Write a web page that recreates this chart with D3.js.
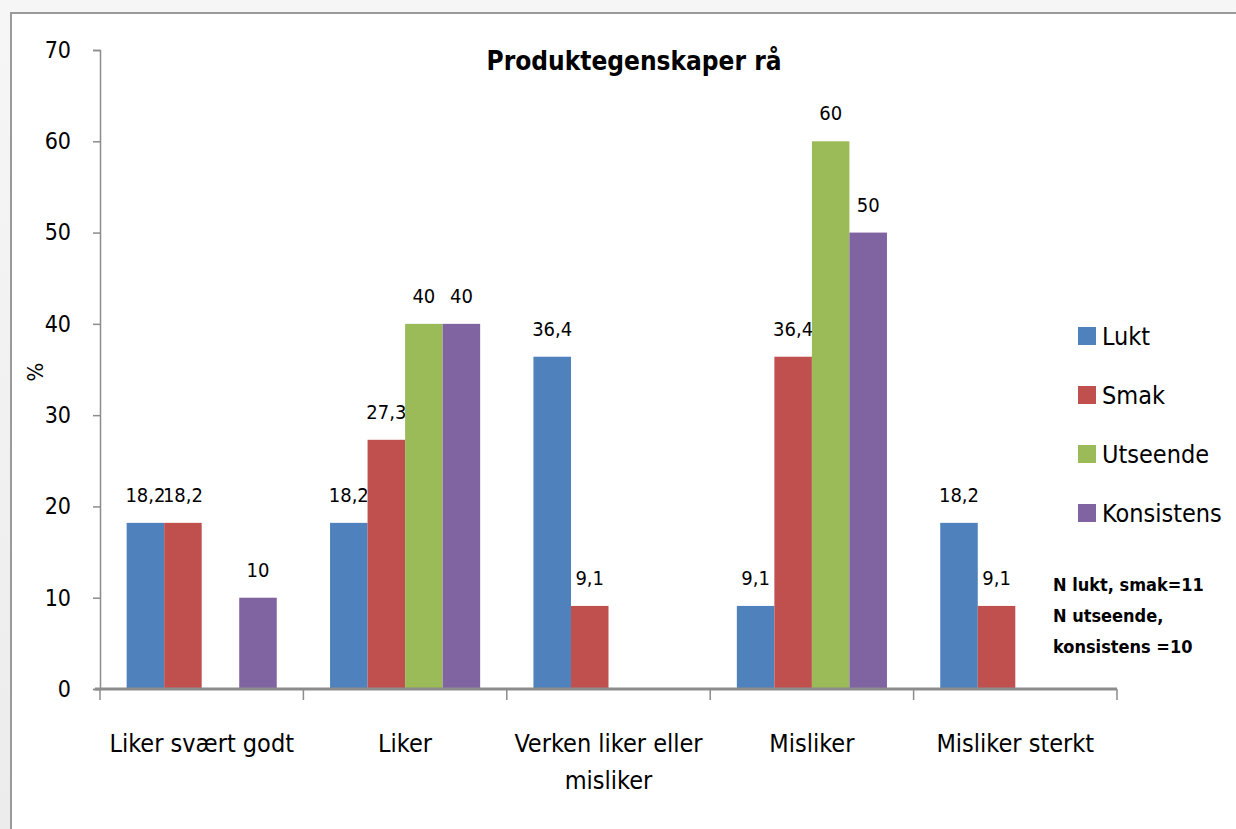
<!DOCTYPE html>
<html>
<head>
<meta charset="utf-8">
<script src="https://cdn.jsdelivr.net/npm/d3@7"></script>
<style>
  body { margin: 0; background: #f0f0f0; }
  svg { display: block; }
  text { font-family: "Liberation Sans Narrow", "DejaVu Sans Condensed", "Arial Narrow", sans-serif; fill: #000; }
</style>
</head>
<body>
<div id="chart"></div>
<script>
const categories = [["Liker svært godt"], ["Liker"], ["Verken liker eller", "misliker"], ["Misliker"], ["Misliker sterkt"]];
const seriesNames = ["Lukt", "Smak", "Utseende", "Konsistens"];
const colors = ["#4F81BD", "#C0504D", "#9BBB59", "#8064A2"];
// null = no bar
const lukt = [18.2, 18.2, 36.4, 9.1, 18.2];
const smak = [18.2, 27.3, 9.1, 36.4, 9.1];
const utseende = [null, 40, null, 60, null];
const konsistens = [10, 40, null, 50, null];
const yTicks = [0, 10, 20, 30, 40, 50, 60, 70];
const noteLines = ["N lukt, smak=11", "N utseende,", "konsistens =10"];

const allSeries = [lukt, smak, utseende, konsistens];

let width = 1236;
let height = 829;
let margin = { top: 50, right: 119, bottom: 140, left: 100 };

let svg = d3.select('#chart')
	.append('svg')
	.attr('width', width)
	.attr('height', height);

// outer background and chart frame
let bg = svg.append('defs').append('linearGradient')
	.attr('id', 'bg').attr('x1', 0).attr('y1', 0).attr('x2', 0).attr('y2', 1);
bg.append('stop').attr('offset', 0).attr('stop-color', '#f6f6f6');
bg.append('stop').attr('offset', 1).attr('stop-color', '#ececec');
svg.append('rect').attr('width', width).attr('height', height).attr('fill', 'url(#bg)');
svg.append('rect')
	.attr('x', 11).attr('y', 13)
	.attr('width', width).attr('height', height)
	.attr('fill', '#fff')
	.attr('stroke', '#9a9a9a')
	.attr('stroke-width', 2);

let x0 = d3.scaleBand()
	.domain(d3.range(categories.length))
	.range([margin.left, width - margin.right])
	.paddingInner(0.262)
	.paddingOuter(0.131);

let x1 = d3.scaleBand()
	.domain(d3.range(seriesNames.length))
	.range([0, x0.bandwidth()]);

let yScale = d3.scaleLinear()
	.domain([0, 70])
	.range([689, 50]);

// y axis
let yAxis = svg.append('g')
	.attr('transform', `translate(${margin.left},0)`)
	.call(d3.axisLeft(yScale).tickValues(yTicks).tickSize(7).tickPadding(22));
yAxis.select('.domain').attr('stroke', '#8c8c8c').attr('stroke-width', 1.5);
yAxis.selectAll('.tick line').attr('stroke', '#8c8c8c').attr('stroke-width', 1.5);
yAxis.selectAll('.tick text')
	.style('font-size', '23px')
	.style('font-family', '"Liberation Sans Narrow", "DejaVu Sans Condensed", sans-serif')
	.attr('fill', '#000');

svg.append('text')
	.attr('transform', 'rotate(-90)')
	.attr('x', -372)
	.attr('y', 43)
	.style('text-anchor', 'middle')
	.style('font-size', '22px')
	.text('%');

// bars and labels, series by series so later bars cover earlier labels
allSeries.forEach(function (values, si) {
	let pts = values.map((v, ci) => ({ v: v, ci: ci })).filter(d => d.v !== null);
	let g = svg.append('g');
	g.selectAll('rect')
		.data(pts)
		.enter()
		.append('rect')
		.attr('x', d => x0(d.ci) + x1(si))
		.attr('y', d => yScale(d.v))
		.attr('width', x1.bandwidth())
		.attr('height', d => yScale(0) - yScale(d.v))
		.attr('fill', colors[si]);
	g.selectAll('text')
		.data(pts)
		.enter()
		.append('text')
		.attr('x', d => x0(d.ci) + x1(si) + x1.bandwidth() / 2)
		.attr('y', d => yScale(d.v) - 21)
		.style('text-anchor', 'middle')
		.style('font-size', '20px')
		.text(d => String(d.v).replace('.', ','));
});

// x axis
let step = x0.step();
let bounds = d3.range(categories.length + 1).map(i => margin.left + i * step);
svg.append('line')
	.attr('x1', 95).attr('x2', width - margin.right)
	.attr('y1', yScale(0)).attr('y2', yScale(0))
	.attr('stroke', '#8c8c8c').attr('stroke-width', 3);
svg.append('g').selectAll('line')
	.data(bounds)
	.enter()
	.append('line')
	.attr('x1', d => d).attr('x2', d => d)
	.attr('y1', yScale(0)).attr('y2', yScale(0) + 11)
	.attr('stroke', '#8c8c8c').attr('stroke-width', 1.5);

svg.append('g').selectAll('text')
	.data(categories)
	.enter()
	.append('text')
	.attr('x', (d, i) => x0(i) + x0.bandwidth() / 2)
	.attr('y', 752)
	.style('text-anchor', 'middle')
	.style('font-size', '25px')
	.selectAll('tspan')
	.data(d => d)
	.enter()
	.append('tspan')
	.attr('x', function () { return d3.select(this.parentNode).attr('x'); })
	.attr('dy', (d, i) => i === 0 ? 0 : 37)
	.text(d => d);

// title
svg.append('text')
	.attr('x', 634)
	.attr('y', 70)
	.style('text-anchor', 'middle')
	.style('font-size', '26px')
	.style('font-weight', 'bold')
	.text('Produktegenskaper rå');

// legend
let legend = svg.append('g').selectAll('g')
	.data(seriesNames)
	.enter()
	.append('g')
	.attr('transform', (d, i) => `translate(1078,${336 + i * 59})`);
legend.append('rect')
	.attr('x', 0).attr('y', -9)
	.attr('width', 18).attr('height', 18)
	.attr('fill', (d, i) => colors[i]);
legend.append('text')
	.attr('x', 24)
	.attr('y', 9)
	.style('font-size', '25px')
	.text(d => d);

// note
svg.append('g').selectAll('text')
	.data(noteLines)
	.enter()
	.append('text')
	.attr('x', 1053)
	.attr('y', (d, i) => 591 + i * 31)
	.style('font-size', '18px')
	.style('font-weight', 'bold')
	.text(d => d);
</script>
</body>
</html>
